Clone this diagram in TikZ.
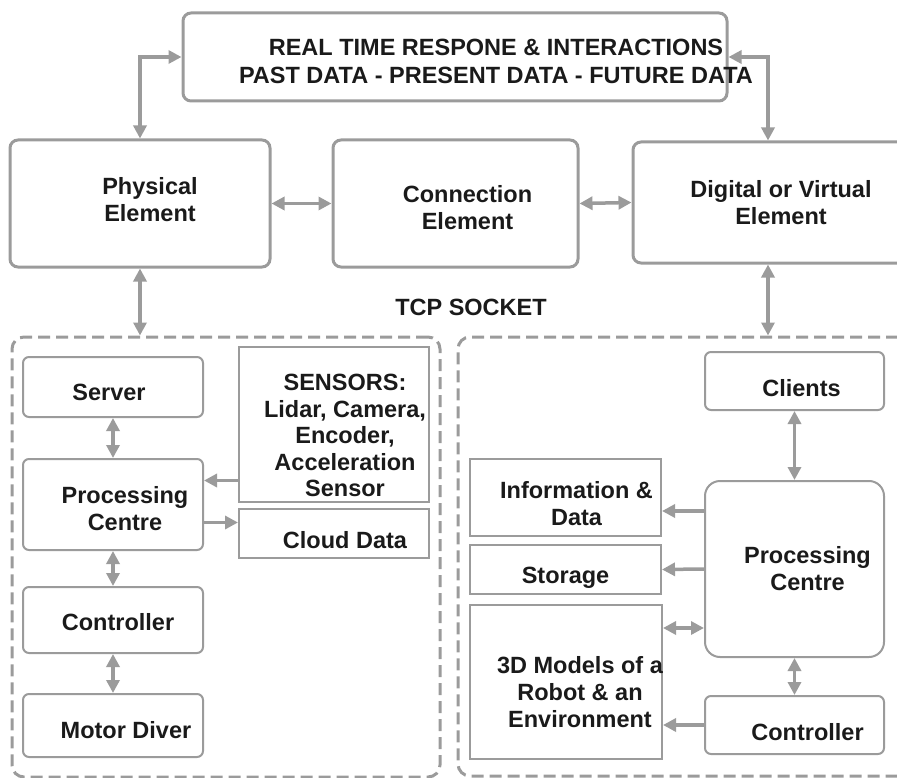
\documentclass[tikz,border=0pt]{standalone}
\usepackage{fontspec}
\setmainfont{Liberation Sans}
\usetikzlibrary{positioning, arrows.meta}
\definecolor{twingray}{RGB}{155,155,155}
\definecolor{twinink}{RGB}{26,26,26}
\tikzset{
    boxbase/.style={rectangle, draw=twingray, align=center, inner sep=0pt, text=twinink, font=\fontsize{23.5}{27}\selectfont\bfseries},
    mainbox/.style={boxbase, rounded corners=8pt, line width=3pt},
    unitbox/.style={boxbase, rounded corners=6pt, line width=2pt},
    flatbox/.style={boxbase, line width=2pt},
    boxlabel/.style={align=center, inner sep=0pt, text=twinink, font=\fontsize{23.5}{27}\selectfont\bfseries},
    groupbox/.style={rectangle, draw=twingray, rounded corners=12pt, line width=3pt, dash pattern=on 12pt off 6pt},
    arr/.style={-{Triangle[length=13pt, width=13pt]}, line width=3.5pt, color=twingray},
    arrboth/.style={{Triangle[length=13pt, width=13pt]}-{Triangle[length=13pt, width=13pt]}, line width=3.5pt, color=twingray},
    tcplbl/.style={font=\fontsize{23.5}{27}\selectfont\bfseries, text=twinink}
}

\begin{document}
\begin{tikzpicture}[x=1pt, y=-1pt]
    \useasboundingbox (0,0) rectangle (897,778);
    \clip (0,0) rectangle (897,778);
    % top row
    \node[mainbox, minimum width=544pt, minimum height=88pt, label={[boxlabel, font=\fontsize{23.5}{28}\selectfont\bfseries, xshift=41pt, yshift=-4pt]center:REAL TIME RESPONE \& INTERACTIONS\\PAST DATA - PRESENT DATA - FUTURE DATA}] (rt) at (455,57) {};
    \node[mainbox, minimum width=260pt, minimum height=127pt, label={[boxlabel, xshift=10pt, yshift=4pt]center:Physical\\Element}] (phys) at (140,203.5) {};
    \node[mainbox, minimum width=245pt, minimum height=127pt, right=60pt of phys, label={[boxlabel, xshift=12pt, yshift=-4pt]center:Connection\\Element}] (conn) {};
    \node[mainbox, minimum width=296pt, minimum height=121pt] (digi) at (781,202.5) {Digital or Virtual\\Element};
    \node[tcplbl] (tcp) at (471,307) {TCP SOCKET};
    \draw[arrboth] (phys.north) |- (rt.west);
    \draw[arrboth] (rt.east) -| ([xshift=-13pt]digi.north);
    \draw[arrboth] (phys.east) -- (conn.west);
    \draw[arrboth] (conn.east) -- (digi.west);

    % physical side
    \node[groupbox, minimum width=428pt, minimum height=440pt] (lgrp) at (226,557) {};
    \node[unitbox, minimum width=180pt, minimum height=60pt, label={[boxlabel, xshift=-4pt, yshift=-5pt]center:Server}] (server) at (113,387) {};
    \node[unitbox, minimum width=180pt, minimum height=91pt, label={[boxlabel, xshift=12pt, yshift=-4pt]center:Processing\\Centre}] (lproc) at (113,504.5) {};
    \node[flatbox, minimum width=190pt, minimum height=155pt, label={[boxlabel, font=\fontsize{23.5}{26.5}\selectfont\bfseries, xshift=11pt, yshift=-11pt]center:{SENSORS:\\Lidar, Camera,\\Encoder,\\Acceleration\\Sensor}}] (sensors) at (334,424.5) {};
    \node[flatbox, minimum width=190pt, minimum height=49pt, label={[boxlabel, xshift=11pt, yshift=-7pt]center:Cloud Data}] (cloud) at (334,533.5) {};
    \node[unitbox, minimum width=180pt, minimum height=66pt, label={[boxlabel, xshift=5pt, yshift=-2pt]center:Controller}] (lctrl) at (113,620) {};
    \node[unitbox, minimum width=180pt, minimum height=63pt, label={[boxlabel, xshift=13pt, yshift=-5pt]center:Motor Diver}] (motor) at (113,725.5) {};
    \draw[arrboth] (phys.south) -- (phys.south |- lgrp.north);
    \draw[arrboth] (server.south) -- (lproc.north);
    \draw[arr] ([yshift=-56pt]sensors.west) -- ([yshift=-56pt]sensors.west -| lproc.east);
    \draw[arr] ([yshift=11pt]cloud.west -| lproc.east) -- ([yshift=11pt]cloud.west);
    \draw[arrboth] (lproc.south) -- (lctrl.north);
    \draw[arrboth] (lctrl.south) -- (motor.north);

    % digital side
    \node[groupbox, minimum width=452pt, minimum height=439pt] (rgrp) at (684,556.5) {};
    \node[unitbox, minimum width=179pt, minimum height=58pt, label={[boxlabel, xshift=7pt, yshift=-7pt]center:Clients}] (clients) at (794.5,381) {};
    \node[unitbox, rounded corners=15pt, minimum width=179pt, minimum height=176pt, label={[boxlabel, xshift=13pt]center:Processing\\Centre}] (rproc) at (794.5,569) {};
    \node[flatbox, minimum width=191pt, minimum height=77pt, label={[boxlabel, xshift=11pt, yshift=-6pt]center:Information \&\\Data}] (info) at (565.5,497.5) {};
    \node[flatbox, minimum width=191pt, minimum height=49pt, label={[boxlabel, yshift=-8pt]center:Storage}] (store) at (565.5,569.5) {};
    \node[flatbox, minimum width=192pt, minimum height=154pt, label={[boxlabel, xshift=14pt, yshift=-10pt]center:3D Models of a\\Robot \& an\\Environment}] (models) at (566,682) {};
    \node[unitbox, minimum width=179pt, minimum height=58pt, label={[boxlabel, xshift=13pt, yshift=-7pt]center:Controller}] (rctrl) at (794.5,725) {};
    \draw[arrboth] ([xshift=-13pt]digi.south) -- ([xshift=-13pt]digi.south |- rgrp.north);
    \draw[arrboth] (clients.south) -- (rproc.north);
    \draw[arr] ([yshift=-13.5pt]info.east -| rproc.west) -- ([yshift=-13.5pt]info.east);
    \draw[arr] (rproc.west) -- (store.east);
    \draw[arrboth] ([yshift=54pt]models.east) -- ([yshift=54pt]models.east -| rproc.west);
    \draw[arrboth] (rproc.south) -- (rctrl.north);
    \draw[arr] (rctrl.west) -- (rctrl.west -| models.east);
\end{tikzpicture}
\end{document}
